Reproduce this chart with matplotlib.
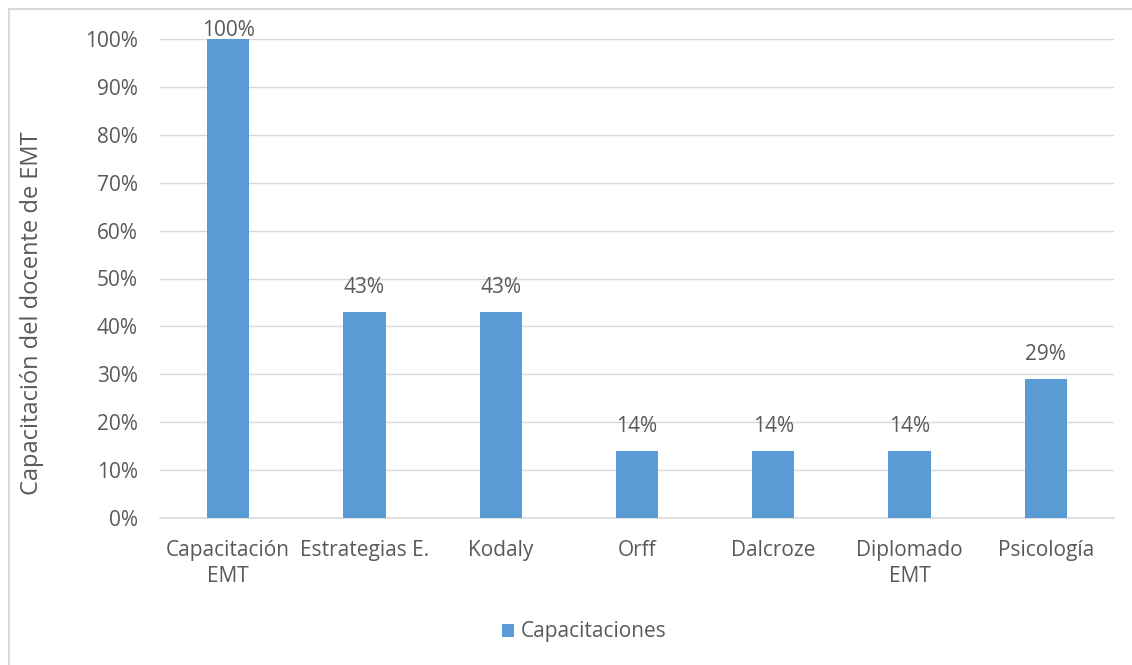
import matplotlib.pyplot as plt
from matplotlib.patches import Rectangle
import numpy as np

plt.rcParams['font.family'] = ['Open Sans', 'DejaVu Sans']

categorias = ["Capacitación\nEMT", "Estrategias E.", "Kodaly", "Orff",
              "Dalcroze", "Diplomado\nEMT", "Psicología"]
valores = [100, 43, 43, 14, 14, 14, 29]
serie = "Capacitaciones"

azul = "#5B9BD5"
gris_texto = "#595959"
gris_linea = "#D9D9D9"

fig = plt.figure(figsize=(11.32, 6.65), dpi=100)
ax = fig.add_axes([160 / 1132, 1 - 518 / 665, 954 / 1132, 479 / 665])

x = np.arange(len(categorias))
ax.bar(x, valores, width=0.31, color=azul, label=serie, zorder=3)

# etiquetas de datos (la de 100% queda pegada al borde superior)
for xi, v in zip(x, valores):
    ax.text(xi, min(v + 3, 99.6), f"{v}%", ha="center", va="bottom",
            fontsize=15, color=gris_texto, zorder=4)

ax.set_xlim(-0.5, len(categorias) - 0.5)
ax.set_ylim(0, 100)
ax.set_yticks(np.arange(0, 101, 10))
ax.set_yticklabels([f"{t}%" for t in range(0, 101, 10)])
ax.set_xticks(x)
ax.set_xticklabels(categorias, linespacing=1.3)
ax.tick_params(axis="both", length=0, labelsize=15, colors=gris_texto)
ax.tick_params(axis="x", pad=16)
ax.tick_params(axis="y", pad=16)
ax.yaxis.grid(True, color=gris_linea, linewidth=1, zorder=0)
for s in ["top", "right", "left"]:
    ax.spines[s].set_visible(False)
ax.spines["bottom"].set_color(gris_linea)
ax.spines["bottom"].set_linewidth(1.2)

ax.set_ylabel("Capacitación del docente de EMT", fontsize=17, color=gris_texto)
ax.yaxis.set_label_coords(-116 / 954, (518 - 313) / 479)

fig.legend(loc="center", bbox_to_anchor=(584 / 1132, 1 - 632 / 665),
           frameon=False, fontsize=15, handlelength=0.6, handleheight=0.6,
           handletextpad=0.3, labelcolor=gris_texto)

fig.patches.append(Rectangle((9 / 1132, -0.1), 1.2, 1 - 9 / 665 + 0.1,
                             transform=fig.transFigure, fill=False,
                             edgecolor=gris_linea, linewidth=1.5))

fig.savefig("out.png", dpi=100)
